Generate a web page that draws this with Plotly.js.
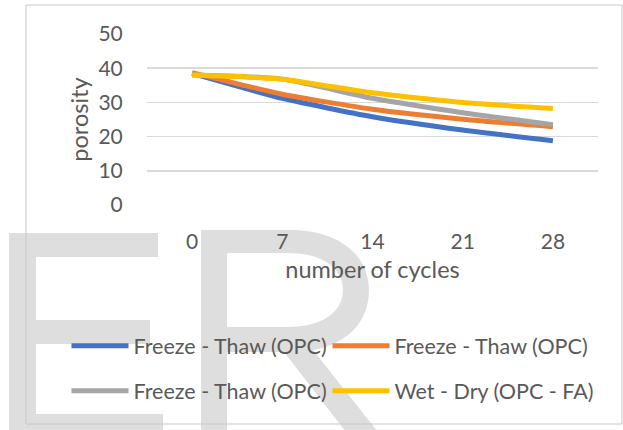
<!DOCTYPE html>
<html>
<head>
<meta charset="utf-8">
<script src="https://cdn.plot.ly/plotly-3.0.1.min.js"></script>
<style>html,body{margin:0;padding:0;background:#fff;}#chart{width:623px;height:430px;}</style>
</head>
<body>
<div id="chart"></div>
<script>
var cycles = ['0', '7', '14', '21', '28'];
var seriesNames = ['Freeze - Thaw (OPC)', 'Freeze - Thaw (OPC)', 'Freeze - Thaw (OPC)', 'Wet - Dry (OPC - FA)'];
var blueValues = [38.5, 31.2, 25.8, 21.9, 18.8];
var orangeValues = [38.7, 32.4, 28.0, 25.1, 22.9];
var grayValues = [38.0, 36.8, 31.2, 27.0, 23.5];
var yellowValues = [38.0, 36.8, 32.8, 30.0, 28.2];
var yTicks = [0, 10, 20, 30, 40, 50];

var colors = ['#4472C4', '#ED7D31', '#A5A5A5', '#FFC000'];
var allValues = [blueValues, orangeValues, grayValues, yellowValues];
var legendIds = ['legend', 'legend2', 'legend3', 'legend4'];

var W = 623, H = 430;
var M = {l: 147, r: 25, t: 34, b: 225};
var PW = W - M.l - M.r, PH = H - M.t - M.b;
function px(x) { return +((x - M.l) / PW).toFixed(4); }
function py(y) { return +(1 - (y - M.t) / PH).toFixed(4); }
function P(x, y) { return px(x) + ',' + py(y); }

var traces = allValues.map(function (vals, i) {
  return {
    x: cycles, y: vals, type: 'scatter', mode: 'lines',
    name: seriesNames[i], legend: legendIds[i],
    line: {color: colors[i], width: 5, shape: 'spline', smoothing: 0.6}
  };
});

var wm = '#dedede';
var ePath = 'M' + P(9, 233) + ' L' + P(158, 233) + ' L' + P(158, 257) + ' L' + P(36, 257) +
  ' L' + P(36, 320) + ' L' + P(150, 320) + ' L' + P(150, 344) + ' L' + P(36, 344) +
  ' L' + P(36, 414) + ' L' + P(163, 414) + ' L' + P(163, 432) + ' L' + P(9, 432) + ' Z';
var rPath = 'M' + P(201, 230) + ' L' + P(290, 230) +
  ' C' + P(340, 230) + ' ' + P(369, 256) + ' ' + P(369, 290) +
  ' C' + P(369, 322) + ' ' + P(347, 344) + ' ' + P(313, 350) +
  ' L' + P(378, 432) + ' L' + P(346, 432) + ' L' + P(284, 352) +
  ' L' + P(227, 352) + ' L' + P(227, 432) + ' L' + P(201, 432) + ' Z' +
  ' M' + P(227, 253) + ' L' + P(227, 327) + ' L' + P(288, 327) +
  ' C' + P(322, 327) + ' ' + P(343, 312) + ' ' + P(343, 290) +
  ' C' + P(343, 268) + ' ' + P(322, 253) + ' ' + P(288, 253) + ' Z';

var shapes = [
  {type: 'path', xref: 'paper', yref: 'paper', path: ePath, fillcolor: wm, line: {width: 0}, layer: 'below'},
  {type: 'path', xref: 'paper', yref: 'paper', path: rPath, fillcolor: wm, line: {width: 0}, layer: 'below'},
  {type: 'rect', xref: 'paper', yref: 'paper', x0: px(26), x1: px(622), y0: py(5), y1: py(424),
   line: {color: '#c8c8c8', width: 1}, fillcolor: 'rgba(0,0,0,0)', layer: 'below'}
];

var font = 'Lato, "Open Sans", sans-serif';
var txt = '#595959';
function legendCfg(xPix, yPix) {
  return {
    orientation: 'h', x: px(xPix), xref: 'paper', y: py(yPix), yref: 'paper',
    xanchor: 'left', yanchor: 'middle',
    itemwidth: 57, borderwidth: 0,
    font: {size: 21.5, color: txt, family: font},
    bgcolor: 'rgba(0,0,0,0)'
  };
}
var layout = {
  width: W, height: H,
  margin: M,
  paper_bgcolor: '#ffffff',
  plot_bgcolor: 'rgba(0,0,0,0)',
  font: {family: font, color: txt, size: 21},
  showlegend: true,
  xaxis: {
    type: 'category', range: [-0.5, 4.5],
    showgrid: false, zeroline: false, showline: false,
    ticks: 'outside', ticklen: 18, tickcolor: 'rgba(0,0,0,0)',
    tickfont: {size: 21, color: txt, family: font},
    title: {text: 'number of cycles', font: {size: 23.5, color: txt, family: font}, standoff: 9},
    fixedrange: true
  },
  yaxis: {
    range: [0, 50], tickvals: yTicks, ticktext: yTicks.map(String),
    showgrid: true, gridcolor: '#d9d9d9', gridwidth: 1.5,
    zeroline: false, showline: false,
    ticks: 'outside', ticklen: 19, tickcolor: 'rgba(0,0,0,0)',
    tickfont: {size: 21, color: txt, family: font},
    title: {text: 'porosity', font: {size: 23.5, color: txt, family: font}, standoff: 3},
    fixedrange: true
  },
  legend: legendCfg(66.5, 345.7),
  legend2: legendCfg(327.5, 345.7),
  legend3: legendCfg(66.5, 390.7),
  legend4: legendCfg(327.5, 390.7),
  shapes: shapes
};

Plotly.newPlot('chart', traces, layout, {displayModeBar: false, staticPlot: true});
</script>
</body>
</html>
